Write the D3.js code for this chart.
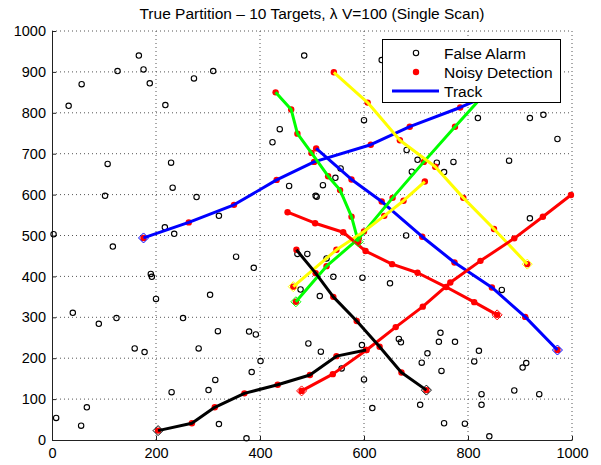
<!DOCTYPE html>
<html lang="en">
<head>
    <meta charset="UTF-8">
    <title>True Partition - 10 Targets</title>
    <style>
        body {
            margin: 0;
            padding: 0;
            background: white;
        }

        text {
            font-family: "Liberation Sans", Arial, sans-serif;
            fill: #000;
        }

        .grid line {
            stroke: #555;
            stroke-width: 1;
            stroke-dasharray: 1,3;
        }
    </style>
</head>
<body>
    <script src="https://d3js.org/d3.v7.min.js"></script>
    <script>
        // axis ticks
        const xTicks = [0, 200, 400, 600, 800, 1000];
        const yTicks = [0, 100, 200, 300, 400, 500, 600, 700, 800, 900, 1000];

        // false alarms
        const falseAlarms = [
            [3, 503], [32, 817], [57, 870], [126, 902], [167, 940], [176, 906], [188, 872], [218, 819], [273, 884], [310, 902],
            [107, 675], [229, 678], [232, 617], [102, 597], [278, 594], [321, 548], [217, 520], [235, 504],
            [117, 473], [354, 448], [190, 406], [192, 399], [200, 345], [40, 311], [124, 298], [252, 298], [90, 284], [304, 355], [319, 266],
            [159, 224], [178, 215], [282, 224], [314, 147], [301, 122], [230, 117], [67, 80], [8, 54], [56, 35], [321, 39],
            [379, 265], [392, 258], [493, 236], [401, 193], [384, 166], [374, 4],
            [388, 421], [491, 455], [472, 455], [528, 444], [597, 397], [650, 383], [541, 399], [478, 368], [515, 352],
            [517, 216], [557, 175], [596, 232], [600, 148], [667, 247], [671, 239], [711, 189], [722, 212], [616, 78], [708, 86], [681, 500],
            [485, 940], [600, 782], [438, 760], [424, 728], [682, 709], [703, 685], [692, 656], [555, 664], [545, 641], [521, 623],
            [456, 621], [507, 597], [509, 595], [740, 678], [634, 929],
            [754, 655], [772, 680], [819, 787], [919, 787], [945, 795], [972, 736], [879, 683], [919, 542],
            [865, 367], [747, 262], [744, 240], [775, 240], [749, 169], [821, 218], [812, 192], [912, 188], [905, 177],
            [889, 121], [937, 112], [826, 112], [826, 86], [754, 41], [794, 40], [841, 9]
        ];

        // tracks, first point is the one with the diamond
        const blue1 = [[176, 494], [263, 532], [350, 575], [432, 636], [504, 680], [613, 722], [688, 766], [785, 813], [870, 860]];
        const blue2 = [[972, 220], [910, 301], [846, 373], [774, 434], [712, 497], [634, 583], [576, 637], [508, 713]];
        const green1 = [[589, 485], [576, 546], [554, 611], [531, 645], [499, 702], [472, 749], [460, 808], [430, 850]];
        const green2 = [[469, 338], [528, 425], [590, 493], [655, 592], [715, 680], [775, 766], [835, 850]];
        const yellow1 = [[914, 430], [850, 516], [791, 592], [737, 668], [669, 733], [607, 825], [542, 899]];
        const yellow2 = [[464, 375], [547, 465], [600, 510], [639, 548], [676, 585], [717, 632]];
        const red1 = [[856, 306], [812, 337], [758, 374], [703, 409], [654, 430], [603, 462], [560, 508], [506, 530], [453, 557]];
        const red2 = [[480, 120], [540, 161], [605, 220], [661, 276], [713, 326], [766, 385], [824, 438], [889, 493], [944, 546], [998, 599]];
        const black1 = [[204, 23], [269, 41], [313, 80], [370, 114], [434, 135], [496, 159], [547, 205], [604, 220]];
        const black2 = [[720, 122], [672, 165], [630, 228], [586, 291], [541, 350], [507, 408], [470, 465]];

        const tracks = [blue1, blue2, green1, green2, yellow1, yellow2, red1, red2, black1, black2];
        const trackColors = ["#0000ff", "#0000ff", "#00ff00", "#00ff00", "#ffff00", "#ffff00", "#ff0000", "#ff0000", "#000000", "#000000"];

        const width = 601, height = 465;
        const margin = { top: 31, right: 29, bottom: 25, left: 52 };

        const x = d3.scaleLinear().domain([0, 1000]).range([margin.left, width - margin.right]);
        const y = d3.scaleLinear().domain([0, 1000]).range([height - margin.bottom, margin.top]);

        const svg = d3.select("body").append("svg")
            .attr("width", width)
            .attr("height", height);

        // dotted grid
        const grid = svg.append("g").attr("class", "grid");
        grid.selectAll(".vx")
            .data(xTicks.slice(1))
            .enter().append("line")
            .attr("x1", d => x(d)).attr("x2", d => x(d))
            .attr("y1", y(0)).attr("y2", y(1000));
        grid.selectAll(".hy")
            .data(yTicks.slice(1))
            .enter().append("line")
            .attr("x1", x(0)).attr("x2", x(1000))
            .attr("y1", d => y(d)).attr("y2", d => y(d));

        // axes, ticks inside like matlab
        svg.append("g")
            .attr("transform", "translate(0," + y(0) + ")")
            .call(d3.axisBottom(x).tickValues(xTicks).tickFormat(d3.format("d")).tickSizeInner(-4).tickSizeOuter(0).tickPadding(8))
            .call(g => g.selectAll("text").style("font-size", "14.5px"))
            .call(g => g.selectAll("line, path").attr("stroke", "#222"));

        svg.append("g")
            .attr("transform", "translate(" + x(0) + ",0)")
            .call(d3.axisLeft(y).tickValues(yTicks).tickFormat(d3.format("d")).tickSizeInner(-4).tickSizeOuter(0).tickPadding(6))
            .call(g => g.selectAll("text").style("font-size", "14.5px"))
            .call(g => g.selectAll("line, path").attr("stroke", "#222"));

        // false alarms
        svg.append("g").selectAll("circle")
            .data(falseAlarms)
            .enter().append("circle")
            .attr("cx", d => x(d[0]))
            .attr("cy", d => y(d[1]))
            .attr("r", 2.7)
            .attr("fill", "none")
            .attr("stroke", "#000")
            .attr("stroke-width", 1.1);

        // noisy detections
        svg.append("g").selectAll("circle")
            .data(tracks.flat())
            .enter().append("circle")
            .attr("cx", d => x(d[0]))
            .attr("cy", d => y(d[1]))
            .attr("r", 3.2)
            .attr("fill", "#ff0000");

        // tracks
        const line = d3.line().x(d => x(d[0])).y(d => y(d[1]));
        svg.append("g").selectAll("path")
            .data(tracks)
            .enter().append("path")
            .attr("d", line)
            .attr("fill", "none")
            .attr("stroke", (d, i) => trackColors[i])
            .attr("stroke-width", 3)
            .attr("stroke-linejoin", "round");

        // diamonds at first point
        svg.append("g").selectAll("path")
            .data(tracks)
            .enter().append("path")
            .attr("d", d => {
                const cx = x(d[0][0]), cy = y(d[0][1]), s = 5;
                return "M" + cx + "," + (cy - s) + "L" + (cx + s) + "," + cy + "L" + cx + "," + (cy + s) + "L" + (cx - s) + "," + cy + "Z";
            })
            .attr("fill", "none")
            .attr("stroke", (d, i) => trackColors[i])
            .attr("stroke-width", 1);

        // title
        svg.append("text")
            .attr("x", (x(0) + x(1000)) / 2)
            .attr("y", 19)
            .attr("text-anchor", "middle")
            .style("font-size", "15.5px")
            .text("True Partition \u2013 10 Targets, \u03bb V=100 (Single Scan)");

        // legend
        const legend = svg.append("g");
        legend.append("rect")
            .attr("x", 382.5).attr("y", 39.5)
            .attr("width", 178).attr("height", 63)
            .attr("fill", "white")
            .attr("stroke", "#000")
            .attr("stroke-width", 1);
        legend.append("circle")
            .attr("cx", 416).attr("cy", 53).attr("r", 2.7)
            .attr("fill", "none").attr("stroke", "#000").attr("stroke-width", 1.1);
        legend.append("circle")
            .attr("cx", 416).attr("cy", 72).attr("r", 3.2)
            .attr("fill", "#ff0000");
        legend.append("line")
            .attr("x1", 392).attr("x2", 439).attr("y1", 91).attr("y2", 91)
            .attr("stroke", "#0000ff").attr("stroke-width", 3);
        const labels = ["False Alarm", "Noisy Detection", "Track"];
        legend.selectAll(".lt")
            .data(labels)
            .enter().append("text")
            .attr("x", 444)
            .attr("y", (d, i) => 58.5 + i * 19)
            .style("font-size", "15.5px")
            .text(d => d);
    </script>
</body>
</html>
